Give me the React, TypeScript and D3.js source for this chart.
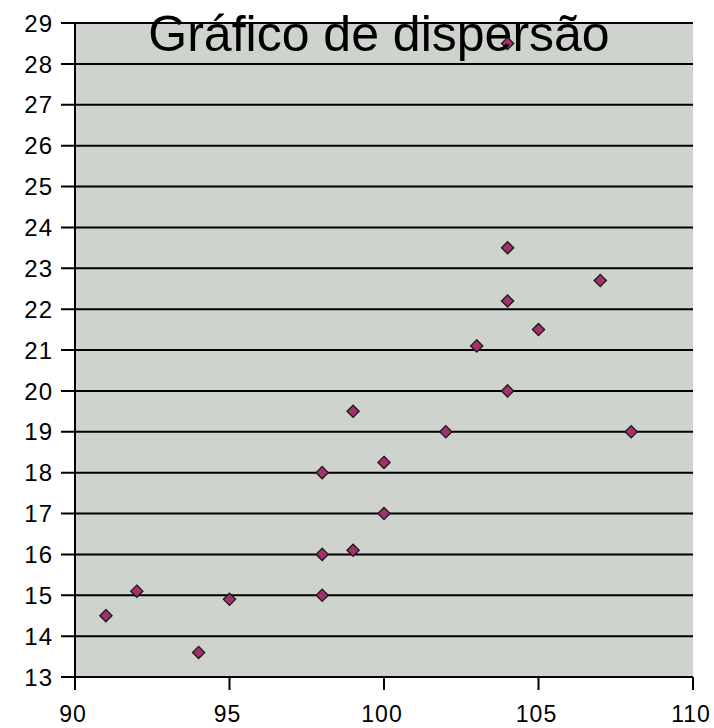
import { useEffect, useRef } from "react";
import * as d3 from "d3";

const xValues = [91, 92, 94, 95, 98, 98, 98, 99, 99, 100, 100, 102, 103, 104, 104, 104, 104, 105, 107, 108];
const yValues = [14.5, 15.1, 13.6, 14.9, 15, 16, 18, 16.1, 19.5, 17, 18.25, 19, 21.1, 23.5, 22.2, 20, 28.5, 21.5, 22.7, 19];
const xTicks = [90, 95, 100, 105, 110];
const yTicks = d3.range(13, 30);
const title = "Gráfico de dispersão";

export default function App() {
  const svgRef = useRef<SVGSVGElement>(null);

  useEffect(() => {
    if (!svgRef.current) return;
    const svg = d3.select(svgRef.current);
    svg.selectAll("*").remove();

    const W = 714;
    const H = 728;
    const margin = { top: 23, right: 21, bottom: 51, left: 75 };
    const width = W - margin.left - margin.right;
    const height = H - margin.top - margin.bottom;
    const font = "'Liberation Sans', Arial, sans-serif";

    const x = d3.scaleLinear().domain([90, 110]).range([0, width]);
    const y = d3.scaleLinear().domain([13, 29]).range([height, 0]);

    const g = svg.append("g").attr("transform", `translate(${margin.left},${margin.top})`);

    // plot background
    g.append("rect")
      .attr("x", 0)
      .attr("y", 0)
      .attr("width", width)
      .attr("height", height)
      .attr("fill", "#cfd3ce");

    // horizontal gridlines + y ticks
    g.append("g")
      .selectAll("line")
      .data(yTicks)
      .join("line")
      .attr("x1", -14)
      .attr("x2", width)
      .attr("y1", (d) => y(d))
      .attr("y2", (d) => y(d))
      .attr("stroke", "#000")
      .attr("stroke-width", 2);

    // left axis line
    g.append("line")
      .attr("x1", 0)
      .attr("x2", 0)
      .attr("y1", 0)
      .attr("y2", height + 13)
      .attr("stroke", "#000")
      .attr("stroke-width", 2);

    // x tick marks
    g.append("g")
      .selectAll("line")
      .data(xTicks.slice(1))
      .join("line")
      .attr("x1", (d) => x(d))
      .attr("x2", (d) => x(d))
      .attr("y1", height)
      .attr("y2", height + 13)
      .attr("stroke", "#000")
      .attr("stroke-width", 2);

    // y labels
    g.append("g")
      .selectAll("text")
      .data(yTicks)
      .join("text")
      .attr("x", -22)
      .attr("y", (d) => y(d))
      .attr("dy", "0.36em")
      .attr("text-anchor", "end")
      .style("font-family", font)
      .style("font-size", "24px")
      .style("letter-spacing", "1px")
      .attr("fill", "#000")
      .text((d) => d);

    // x labels
    g.append("g")
      .selectAll("text")
      .data(xTicks)
      .join("text")
      .attr("x", (d) => x(d) - 2)
      .attr("y", height + 45)
      .attr("text-anchor", "middle")
      .style("font-family", font)
      .style("font-size", "23px")
      .style("letter-spacing", "1px")
      .attr("fill", "#000")
      .text((d) => d);

    // points
    const diamond = d3.symbol().type(d3.symbolDiamond2).size(95);
    const points = xValues.map((v, i) => ({ x: v, y: yValues[i] }));
    g.append("g")
      .selectAll("path")
      .data(points)
      .join("path")
      .attr("transform", (d) => `translate(${x(d.x)},${y(d.y)})`)
      .attr("d", diamond)
      .attr("fill", "#a3306c")
      .attr("stroke", "#1a1a1a")
      .attr("stroke-width", 1.3);

    // title
    svg.append("text")
      .attr("x", 379)
      .attr("y", 51)
      .attr("text-anchor", "middle")
      .style("font-family", font)
      .style("font-size", "50px")
      .attr("fill", "#000")
      .text(title);
  }, []);

  return (
    <svg
      ref={svgRef}
      width={714}
      height={728}
      style={{ position: "absolute", left: 0, top: 0, background: "#fff" }}
    />
  );
}
